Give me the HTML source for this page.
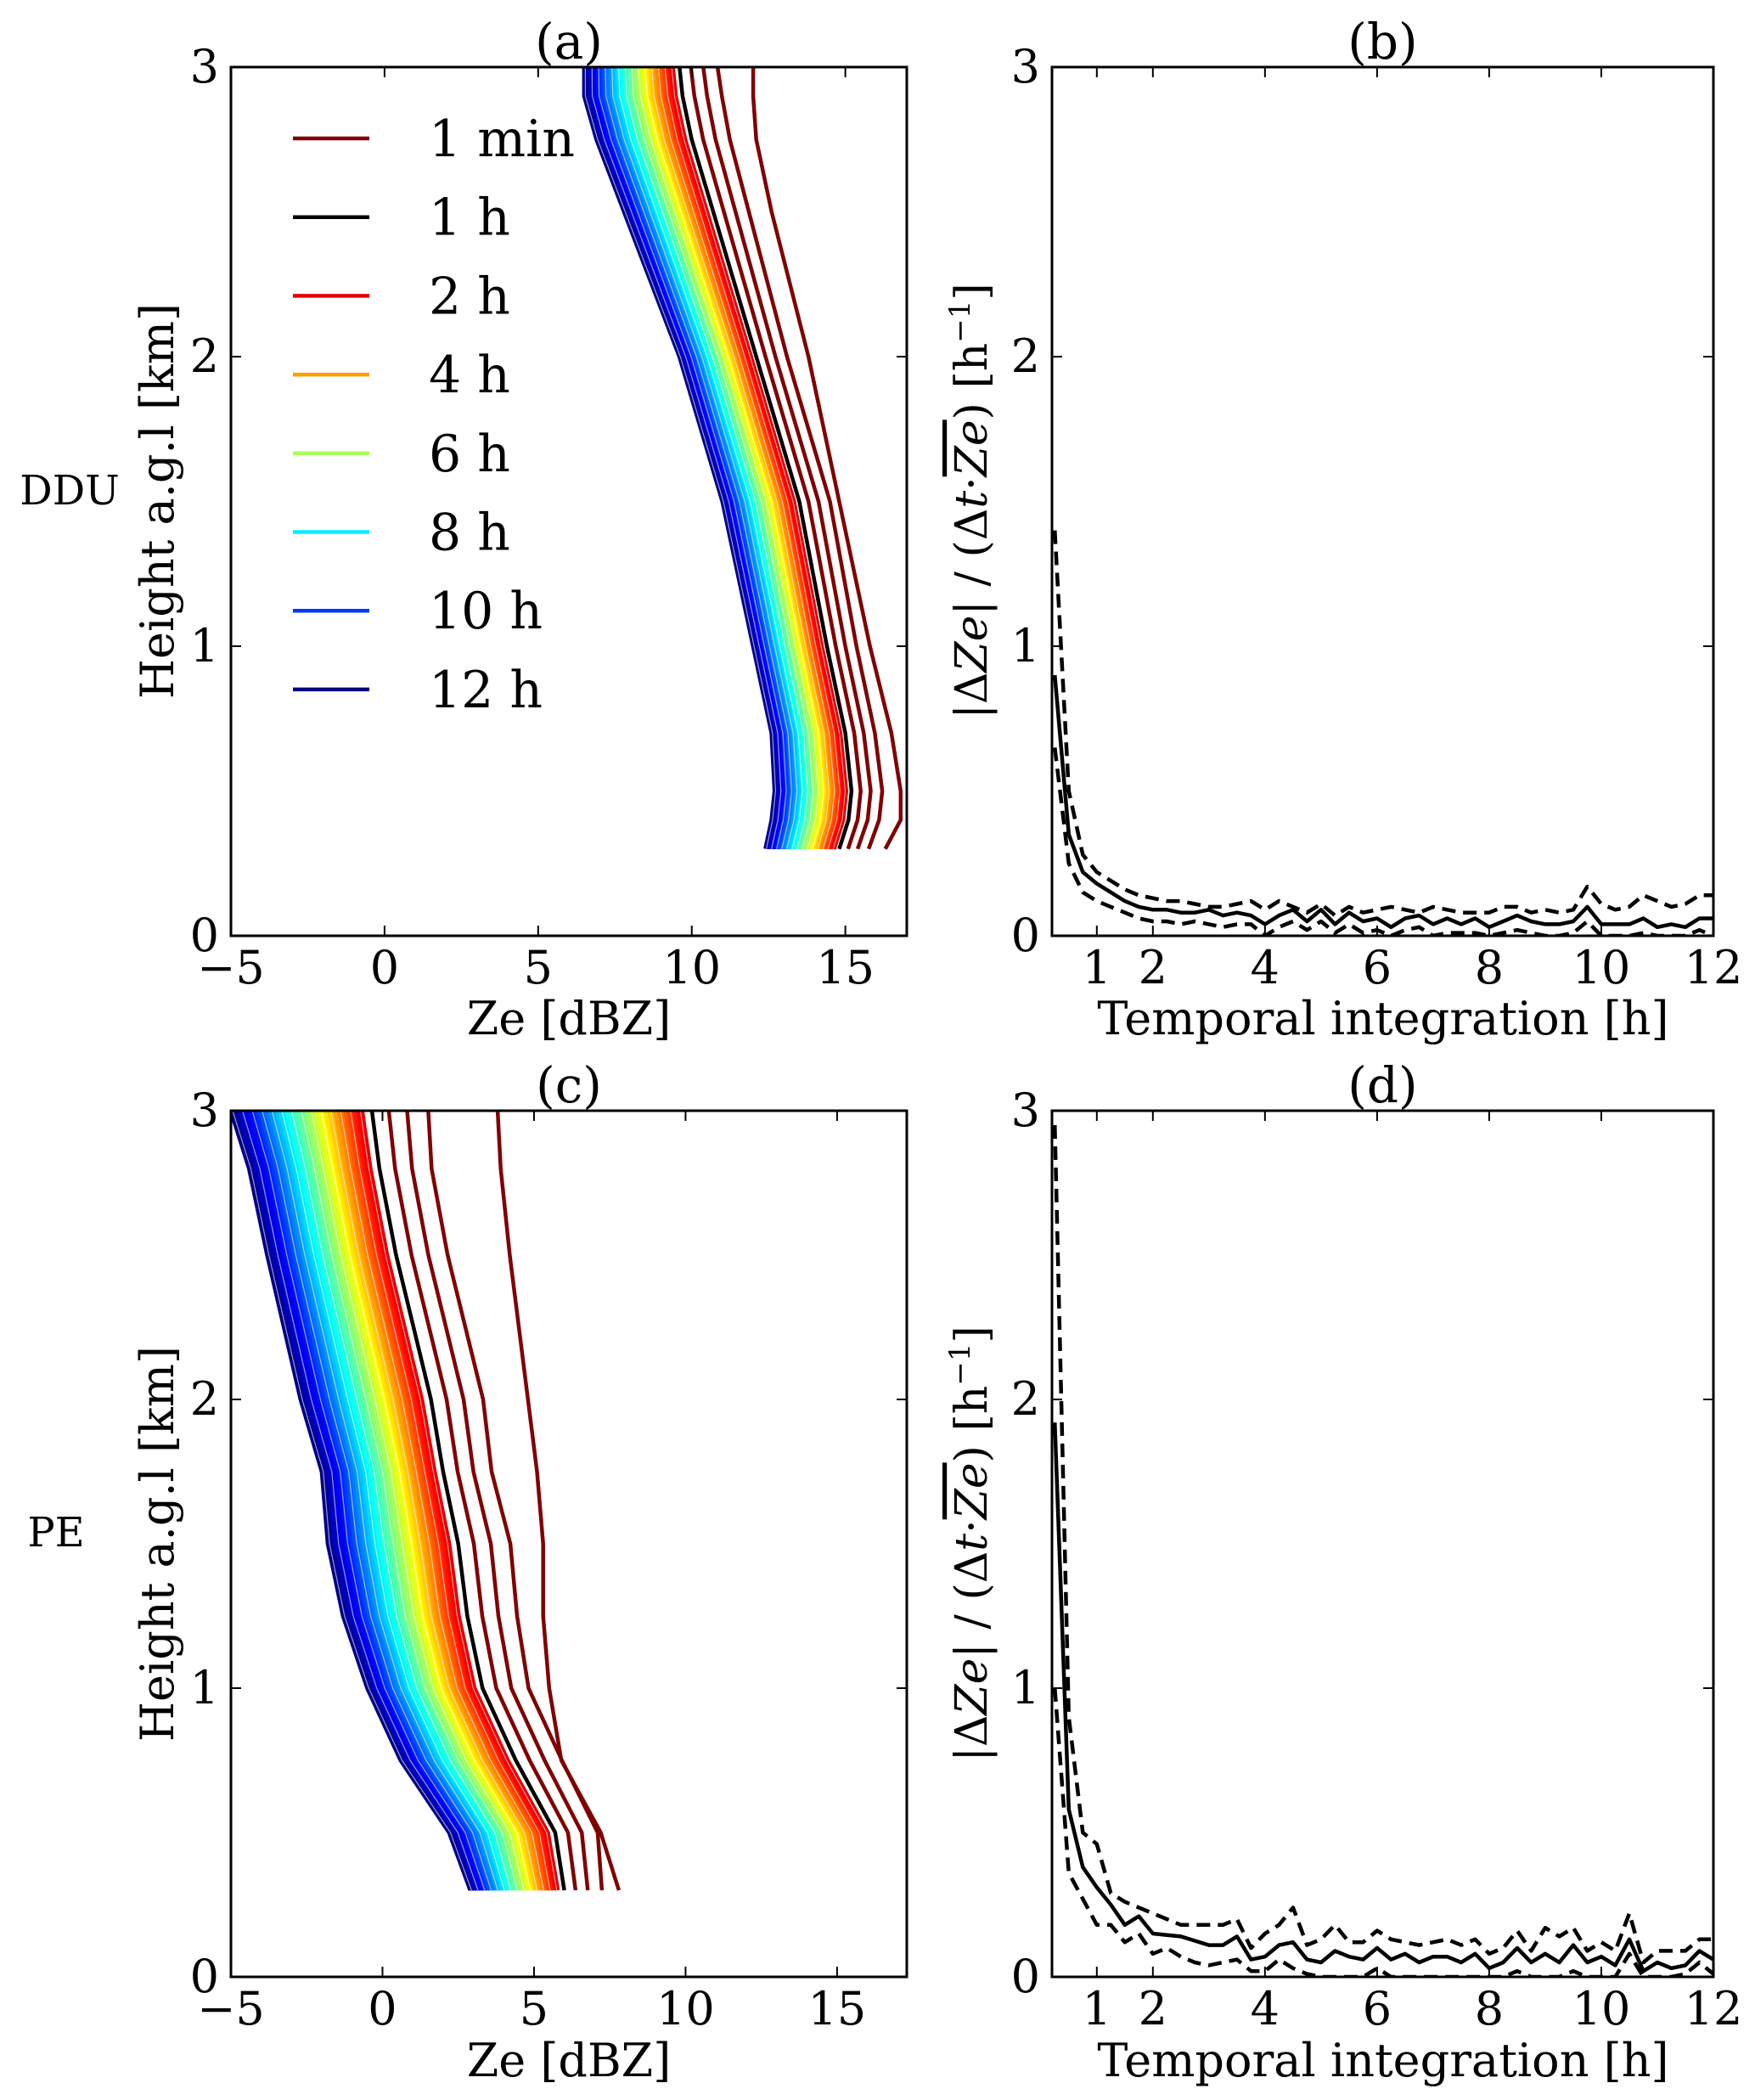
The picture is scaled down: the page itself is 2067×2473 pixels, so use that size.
<!DOCTYPE html>
<html><head><meta charset="utf-8"><style>
html,body{margin:0;padding:0;background:#fff}
svg{display:block}
text{font-family:"DejaVu Serif","Liberation Serif",serif;fill:#000}
</style></head><body>
<svg id="fig" width="2067" height="2473" viewBox="0 0 2067 2473" xmlns="http://www.w3.org/2000/svg"></svg>
<script>
// ---- data ----
const heightsA=[0.3,0.4,0.5,0.7,1.0,1.5,2.0,2.5,2.75,2.9,3.0];
const blueA=[12.4,12.6,12.7,12.6,12.0,11.0,9.6,7.8,6.9,6.5,6.5];
const blackA=[14.8,15.1,15.2,15.0,14.4,13.5,12.1,10.7,10.0,9.7,9.6];
const oneMinA=[16.3,16.8,16.8,16.5,15.8,14.8,13.8,12.6,12.1,12.0,12.0];
const heightsC=[0.3,0.5,0.75,1.0,1.25,1.5,1.75,2.0,2.5,2.8,3.0];
const blueC=[2.9,2.2,0.6,-0.5,-1.3,-1.8,-2.0,-2.7,-3.8,-4.4,-5.0];
const blackC=[6.0,5.7,4.4,3.3,2.8,2.5,2.0,1.6,0.45,-0.1,-0.35];
const oneMinC=[7.8,7.2,5.9,5.5,5.3,5.3,5.1,4.8,4.2,3.9,3.8];
const maroonFrac=[1.12,1.25,1.4];
const integHours=[];for(let i=1;i<=48;i++)integHours.push(i*0.25);
const solidB=[0.9,0.35,0.22,0.18,0.15,0.12,0.1,0.09,0.09,0.08,0.08,0.09,0.07,0.08,0.07,0.04,0.07,0.09,0.05,0.09,0.04,0.08,0.05,0.06,0.03,0.06,0.07,0.04,0.06,0.04,0.06,0.03,0.05,0.07,0.05,0.04,0.04,0.05,0.1,0.04,0.04,0.04,0.06,0.03,0.04,0.03,0.06,0.06];
const upperB=[1.4,0.5,0.28,0.22,0.19,0.16,0.14,0.13,0.12,0.12,0.11,0.1,0.1,0.11,0.12,0.09,0.12,0.1,0.08,0.11,0.07,0.1,0.08,0.09,0.1,0.09,0.08,0.1,0.09,0.08,0.08,0.08,0.1,0.1,0.08,0.09,0.08,0.09,0.17,0.11,0.09,0.1,0.14,0.12,0.1,0.11,0.14,0.14];
const lowerB=[0.65,0.25,0.15,0.12,0.1,0.08,0.06,0.05,0.05,0.04,0.05,0.04,0.03,0.04,0.04,0.0,0.03,0.05,0.02,0.05,0.01,0.04,0.01,0.02,0.0,0.02,0.03,0.0,0.01,0.01,0.01,0.0,0.01,0.02,0.01,0.0,0.0,0.01,0.05,0.0,0.0,0.0,0.01,0.0,0.0,0.0,0.02,0.0];
const solidD=[1.92,0.58,0.38,0.31,0.25,0.18,0.21,0.15,0.145,0.14,0.125,0.11,0.11,0.14,0.06,0.07,0.11,0.12,0.06,0.05,0.09,0.07,0.06,0.1,0.06,0.08,0.05,0.07,0.07,0.05,0.08,0.03,0.05,0.1,0.05,0.08,0.05,0.11,0.05,0.07,0.04,0.13,0.02,0.05,0.03,0.04,0.09,0.06];
const upperD=[2.95,0.9,0.5,0.46,0.29,0.26,0.24,0.22,0.2,0.18,0.18,0.18,0.18,0.2,0.1,0.15,0.18,0.24,0.11,0.13,0.18,0.12,0.12,0.16,0.13,0.12,0.11,0.12,0.13,0.11,0.13,0.08,0.1,0.16,0.09,0.17,0.14,0.17,0.09,0.12,0.09,0.22,0.05,0.09,0.09,0.09,0.13,0.13];
const lowerD=[1.0,0.36,0.27,0.18,0.18,0.12,0.15,0.08,0.1,0.07,0.05,0.04,0.05,0.06,0.02,0.02,0.06,0.03,0.01,0,0,0,0,0.03,0,0,0,0,0,0,0,0,0,0.02,0,0,0,0.02,0,0,0,0.08,0,0,0,0.01,0.05,0.01];
const legendLabels=["1 min","1 h","2 h","4 h","6 h","8 h","10 h","12 h"];
const legendHours=[null,null,2,4,6,8,10,12];
const xTicksZe=[-5,0,5,10,15];
const xTicksT=[1,2,4,6,8,10,12];
const yTicks=[0,1,2,3];

const NS="http://www.w3.org/2000/svg";
const svg=document.getElementById('fig');
function el(tag,attrs,parent){const e=document.createElementNS(NS,tag);for(const k in attrs)e.setAttribute(k,attrs[k]);(parent||svg).appendChild(e);return e;}
function jet(v){const c=x=>Math.max(0,Math.min(1,x));
 const r=c(1.5-Math.abs(4*v-3)),g=c(1.5-Math.abs(4*v-2)),b=c(1.5-Math.abs(4*v-1));
 return `rgb(${Math.round(r*255)},${Math.round(g*255)},${Math.round(b*255)})`;}
function hourColor(h){return jet((12-h)/10*0.9);}

const boxes={
 a:{l:272,r:1068,t:79,b:1102,x0:-5,x1:17,y0:0,y1:3},
 b:{l:1239,r:2018,t:79,b:1102,x0:0.2,x1:12,y0:0,y1:3},
 c:{l:272,r:1068,t:1308,b:2328,x0:-5,x1:17.3,y0:0,y1:3},
 d:{l:1239,r:2018,t:1308,b:2328,x0:0.2,x1:12,y0:0,y1:3}};
function sx(B,v){return B.l+(v-B.x0)/(B.x1-B.x0)*(B.r-B.l);}
function sy(B,v){return B.b-(v-B.y0)/(B.y1-B.y0)*(B.b-B.t);}

function axes(key,B,xt,title){
 const g=el('g',{});
 
 
 const cp=el('clipPath',{id:'clip'+key},g);el('rect',{x:B.l,y:B.t,width:B.r-B.l,height:B.b-B.t},cp);
 const plot=el('g',{'clip-path':`url(#clip${key})`},g);
 
 
 B.plot=plot;B.g=g;
 const tt=el('text',{x:(B.l+B.r)/2,y:B.t-10,'text-anchor':'middle','font-size':58},g);tt.textContent=title;
 
 
 xt.forEach(v=>{const x=sx(B,v);
  el('line',{x1:x,x2:x,y1:B.b,y2:B.b-12,stroke:'#000','stroke-width':2},g);
  el('line',{x1:x,x2:x,y1:B.t,y2:B.t+12,stroke:'#000','stroke-width':2},g);
  const t=el('text',{x:x,y:B.b+56,'text-anchor':'middle','font-size':54},g);t.textContent=v<0?'\u2212'+(-v):String(v);
  
  });
 yTicks.forEach(v=>{const y=sy(B,v);
  el('line',{x1:B.l,x2:B.l+12,y1:y,y2:y,stroke:'#000','stroke-width':2},g);
  el('line',{x1:B.r,x2:B.r-12,y1:y,y2:y,stroke:'#000','stroke-width':2},g);
  const t=el('text',{x:B.l-14,y:y+18,'text-anchor':'end','font-size':54},g);t.textContent=v;
  
  });
}
function frame(B){const r=el('rect',{x:B.l,y:B.t,width:B.r-B.l,height:B.b-B.t,fill:'none',stroke:'#000','stroke-width':3},B.g);
 }

function poly(B,xs,ys,style,name){
 const pts=xs.map((x,i)=>sx(B,x).toFixed(1)+','+sy(B,ys[i]).toFixed(1)).join(' ');
 const p=el('polyline',Object.assign({points:pts,fill:'none','stroke-linejoin':'round'},style),B.plot);
 
 
 return p;}

function profilePanel(B,H,blue,black,onem){
 for(let k=40;k>=0;k--){const h=2+k*0.25;const f=(12-h)/10*0.93;
  const xs=blue.map((b,i)=>b+f*(black[i]-b));
  poly(B,xs,H,{stroke:hourColor(h),'stroke-width':5},'profile-'+h+'h');}
 for(let k=40;k>=0;k-=3){const h=2+k*0.25;const f=(12-h)/10*0.93+0.012;
  const xs=blue.map((b,i)=>b+f*(black[i]-b));
  poly(B,xs,H,{stroke:'rgba(255,255,255,0.6)','stroke-width':1.2},'profile-gap');}
 poly(B,black,H,{stroke:'#000','stroke-width':4.5},'profile-1h');
 maroonFrac.forEach(f=>{const xs=blue.map((b,i)=>b+f*(black[i]-b));
  poly(B,xs,H,{stroke:'#800000','stroke-width':4.5},'profile-sub-hour');});
 poly(B,onem,H,{stroke:'#800000','stroke-width':4.5},'profile-1min');
}
function tsPanel(B,s,u,l){
 poly(B,integHours,u,{stroke:'#000','stroke-width':4.5,'stroke-dasharray':'16,9'},'upper-dashed-line');
 poly(B,integHours,l,{stroke:'#000','stroke-width':4.5,'stroke-dasharray':'16,9'},'lower-dashed-line');
 poly(B,integHours,s,{stroke:'#000','stroke-width':4.5},'mean-solid-line');
}

axes('a',boxes.a,xTicksZe,'(a)');
axes('b',boxes.b,xTicksT,'(b)');
axes('c',boxes.c,xTicksZe,'(c)');
axes('d',boxes.d,xTicksT,'(d)');
profilePanel(boxes.a,heightsA,blueA,blackA,oneMinA);
profilePanel(boxes.c,heightsC,blueC,blackC,oneMinC);
tsPanel(boxes.b,solidB,upperB,lowerB);
tsPanel(boxes.d,solidD,upperD,lowerD);
Object.values(boxes).forEach(frame);

// legend
const lg=el('g',{});


legendLabels.forEach((lab,i)=>{const y=163+i*92.7;
 const col=i===0?'#800000':i===1?'#000':hourColor(legendHours[i]);
 const ln=el('line',{x1:345,x2:435,y1:y,y2:y,stroke:col,'stroke-width':4.5},lg);
 
 
 const t=el('text',{x:505,y:y+21,'font-size':60},lg);t.textContent=lab;
 
 });

function label(x,y,txt,rot,name,size){const t=el('text',{x:x,y:y,'text-anchor':'middle','font-size':size||54,transform:rot?`rotate(-90 ${x} ${y})`:''});t.textContent=txt;
 return t;}
label(670,1218,'Ze [dBZ]',false,'x-axis-title-a');
label(670,2445,'Ze [dBZ]',false,'x-axis-title-c');
label(1629,1218,'Temporal integration [h]',false,'x-axis-title-b');
label(1629,2445,'Temporal integration [h]',false,'x-axis-title-d');
label(204,590,'Height a.g.l [km]',true,'y-axis-title-a');
label(204,1818,'Height a.g.l [km]',true,'y-axis-title-c');
label(82,594,'DDU',false,'row-label-ddu',48);
label(66,1821,'PE',false,'row-label-pe',48);
function rlabel(x,y,name){const t=el('text',{x:x,y:y,'text-anchor':'middle','font-size':52,transform:`rotate(-90 ${x} ${y})`});
 
 t.innerHTML='|\u0394<tspan font-style="italic">Ze</tspan>| / (\u0394<tspan font-style="italic">t</tspan>\u00b7<tspan font-style="italic" text-decoration="overline">Ze</tspan>) [h<tspan baseline-shift="super" font-size="34">\u22121</tspan>]';}
rlabel(1162,590,'y-axis-title-b');
rlabel(1162,1818,'y-axis-title-d');
</script>
</body></html>
